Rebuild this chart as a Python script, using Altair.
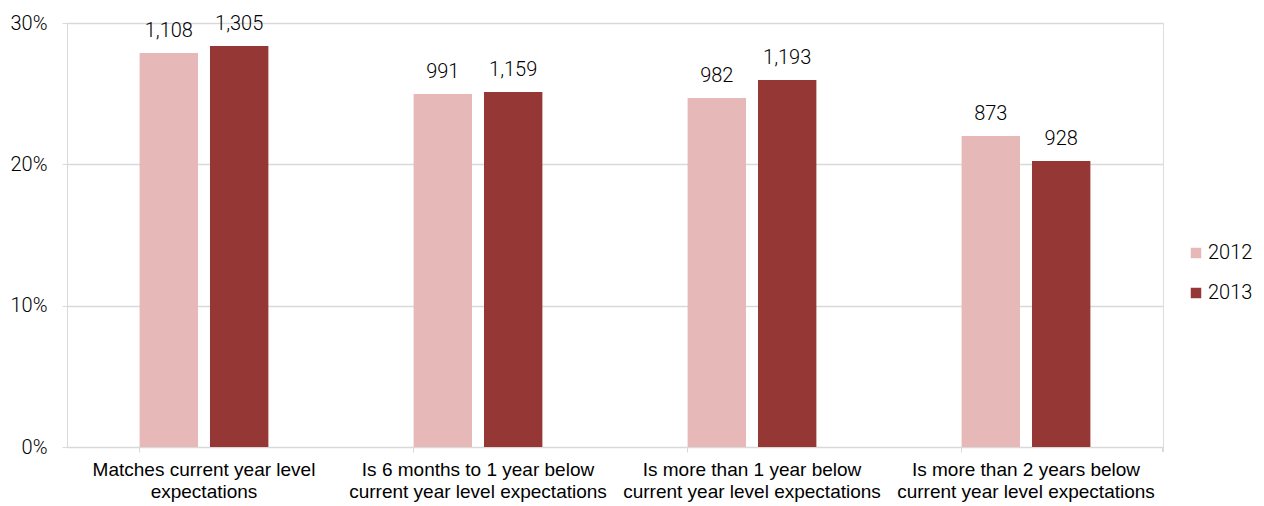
import altair as alt
import pandas as pd

# Student achievement relative to year level expectations
categories = [
    "Matches current year level\nexpectations",
    "Is 6 months to 1 year below\ncurrent year level expectations",
    "Is more than 1 year below\ncurrent year level expectations",
    "Is more than 2 years below\ncurrent year level expectations",
]
years = ["2012", "2013"]
share_2012 = [0.2788, 0.2498, 0.2470, 0.2200]
share_2013 = [0.2838, 0.2512, 0.2597, 0.2024]
count_2012 = [1108, 991, 982, 873]
count_2013 = [1305, 1159, 1193, 928]

rows = []
for i, c in enumerate(categories):
    rows.append({"category": c, "year": "2012", "share": share_2012[i], "count": count_2012[i]})
    rows.append({"category": c, "year": "2013", "share": share_2013[i], "count": count_2013[i]})
df = pd.DataFrame(rows)

W, H = 1096, 424
grid = "#D9D9D9"
colors = ["#E6B8B7", "#953735"]

x = alt.X(
    "category:N",
    sort=categories,
    title=None,
    scale=alt.Scale(paddingInner=0.53, paddingOuter=0.265),
    axis=alt.Axis(
        labelAngle=0,
        labelExpr="split(datum.label, '\\n')",
        labelFont="Liberation Sans",
        labelFontSize=19,
        labelLineHeight=22,
        labelLimit=0,
        labelColor="#000000",
        labelPadding=8,
        labelBaseline="top",
        bandPosition=0,
        tickSize=5,
        tickColor=grid,
        domainColor=grid,
        grid=False,
    ),
)
xoff = alt.XOffset("year:N", sort=years, scale=alt.Scale(paddingInner=0.17, paddingOuter=0))
y = alt.Y(
    "share:Q",
    title=None,
    scale=alt.Scale(domain=[0, 0.3], nice=False),
    axis=alt.Axis(
        values=[0, 0.1, 0.2, 0.3],
        format=".0%",
        labelFont="Roboto",
        labelFontWeight=300,
        labelFontSize=20,
        labelColor="#000000",
        labelPadding=15,
        tickSize=5,
        tickColor=grid,
        domainColor=grid,
        gridColor=grid,
        gridWidth=1.5,
    ),
)

bars = alt.Chart(df).mark_bar(width=alt.RelativeBandSize(1)).encode(
    x=x,
    xOffset=xoff,
    y=y,
    color=alt.Color(
        "year:N",
        sort=years,
        scale=alt.Scale(domain=years, range=colors),
        legend=alt.Legend(
            title=None,
            orient="none",
            legendX=1119,
            legendY=220,
            symbolType="square",
            symbolSize=110,
            labelFont="Roboto",
            labelFontWeight=300,
            labelFontSize=20,
            labelColor="#000000",
            labelOffset=2,
            rowPadding=20,
            padding=0,
        ),
    ),
)

labels = alt.Chart(df).mark_text(
    font="Roboto", fontWeight=300, fontSize=20, color="#000000", baseline="alphabetic", dy=-16
).encode(
    x=alt.X("category:N", sort=categories),
    xOffset=xoff,
    y=alt.Y("share:Q"),
    text=alt.Text("count:Q", format=","),
)

# short closing tick at the right end of the category axis
end_tick = alt.Chart(df).mark_rule(color=grid, strokeWidth=1).encode(
    x=alt.value(W), y=alt.value(H), y2=alt.value(H + 5)
)

chart = (
    alt.layer(bars, labels, end_tick)
    .properties(
        width=W,
        height=H,
        autosize=alt.AutoSizeParams(type="none"),
        padding={"left": 67, "top": 23, "right": 101, "bottom": 59},
    )
    .configure_view(stroke="transparent", strokeWidth=0)
    .configure(background="#FFFFFF")
)

chart.save("out.html", embed_options={"renderer": "svg", "actions": False})
